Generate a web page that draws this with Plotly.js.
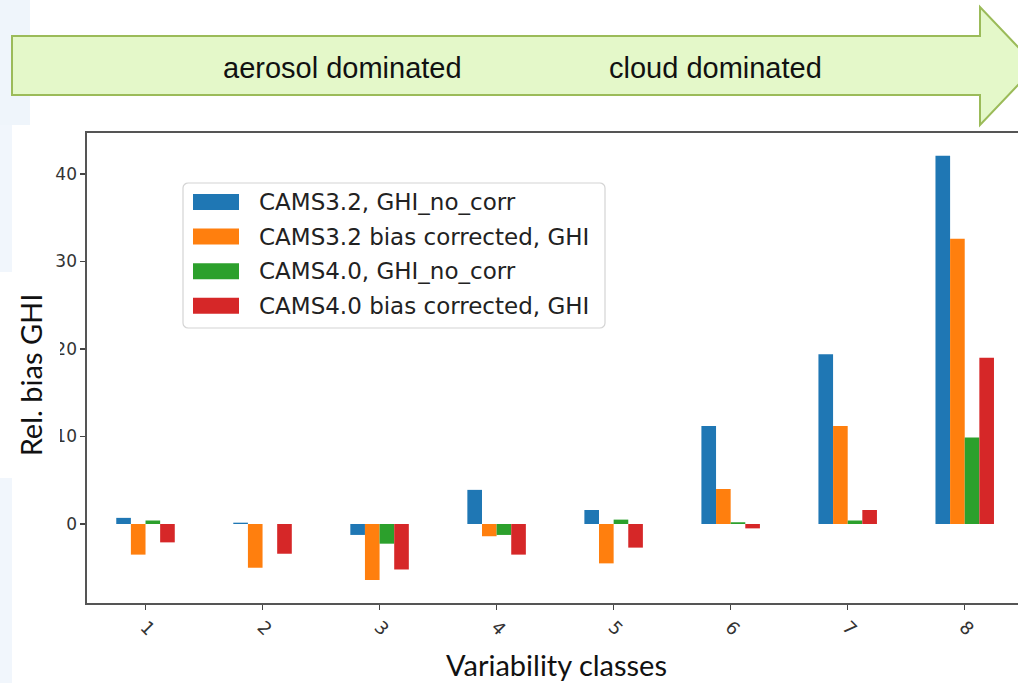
<!DOCTYPE html>
<html>
<head>
<meta charset="utf-8">
<script src="https://cdn.plot.ly/plotly-3.0.1.min.js"></script>
<style>
  html, body { margin: 0; padding: 0; background: #ffffff; }
  #chart { width: 1018px; height: 683px; }
</style>
</head>
<body>
<div id="chart"></div>
<script>
// Variability classes on the x axis
const classes = [1, 2, 3, 4, 5, 6, 7, 8];
const classLabels = ["1", "2", "3", "4", "5", "6", "7", "8"];

// Relative GHI bias (%) per variability class
const cams32NoCorr   = [0.7, 0.15, -1.25, 3.9, 1.6, 11.2, 19.4, 42.1];
const cams32BiasCorr = [-3.5, -5.0, -6.4, -1.4, -4.5, 4.0, 11.2, 32.6];
const cams40NoCorr   = [0.4, 0.0, -2.25, -1.25, 0.5, 0.2, 0.4, 9.9];
const cams40BiasCorr = [-2.1, -3.4, -5.2, -3.5, -2.7, -0.5, 1.6, 19.0];

const seriesNames = [
  "CAMS3.2, GHI_no_corr",
  "CAMS3.2 bias corrected, GHI",
  "CAMS4.0, GHI_no_corr",
  "CAMS4.0 bias corrected, GHI"
];
const seriesValues = [cams32NoCorr, cams32BiasCorr, cams40NoCorr, cams40BiasCorr];
const seriesColors = ["#1f77b4", "#ff7f0e", "#2ca02c", "#d62728"];

const yTicks = [0, 10, 20, 30, 40];
const bandLabels = ["aerosol dominated", "cloud dominated"];

// Page geometry (pixels)
const W = 1018, H = 683;
const M = { l: 87, r: 0, t: 133, b: 80 };
const PW = W - M.l - M.r, PH = H - M.t - M.b;
const px = x => (x - M.l) / PW;
const py = y => (H - M.b - y) / PH;
const classStep = 117.03;   // pixels between class ticks

const traces = seriesNames.map((name, i) => ({
  type: "bar",
  name: name,
  x: classes,
  y: seriesValues[i],
  marker: { color: seriesColors[i], line: { width: 0 } },
  showlegend: false,
  hoverinfo: "x+y+name"
}));

function poly(pts) {
  return "M" + pts.map(p => px(p[0]).toFixed(5) + "," + py(p[1]).toFixed(5)).join(" L") + " Z";
}

function roundRect(x0, y0, x1, y1, r) {
  // rounded rectangle in pixel space, converted to paper coordinates
  const pts = [];
  const seg = 4;
  const corners = [
    [x1 - r, y0 + r, -Math.PI / 2, 0],
    [x1 - r, y1 - r, 0, Math.PI / 2],
    [x0 + r, y1 - r, Math.PI / 2, Math.PI],
    [x0 + r, y0 + r, Math.PI, 1.5 * Math.PI]
  ];
  corners.forEach(c => {
    for (let k = 0; k <= seg; k++) {
      const a = c[2] + (c[3] - c[2]) * k / seg;
      pts.push([c[0] + r * Math.cos(a), c[1] + r * Math.sin(a)]);
    }
  });
  return poly(pts);
}

const shapes = [];
const annotations = [];

// light slide background strips on the left edge
shapes.push({ type: "rect", xref: "paper", yref: "paper", layer: "below",
  x0: px(0), x1: px(30), y0: py(125), y1: py(0),
  fillcolor: "#eff5fb", line: { width: 0 } });
shapes.push({ type: "rect", xref: "paper", yref: "paper", layer: "below",
  x0: px(0), x1: px(12), y0: py(683), y1: py(125),
  fillcolor: "#f1f6fc", line: { width: 0 } });

// green arrow across the top
shapes.push({ type: "path", xref: "paper", yref: "paper", layer: "above",
  path: poly([[12, 36], [980, 36], [980, 7], [1036, 66], [980, 125], [980, 95], [12, 95]]),
  fillcolor: "#e4f8c9", line: { color: "#9bbb59", width: 2 } });

annotations.push({ xref: "paper", yref: "paper", x: px(342), y: py(68),
  text: bandLabels[0], showarrow: false, xanchor: "center", yanchor: "middle",
  font: { family: "Liberation Sans, Arial, sans-serif", size: 29, color: "#111111" } });
annotations.push({ xref: "paper", yref: "paper", x: px(715), y: py(68),
  text: bandLabels[1], showarrow: false, xanchor: "center", yanchor: "middle",
  font: { family: "Liberation Sans, Arial, sans-serif", size: 29, color: "#111111" } });

// y-axis title on its own white text box
annotations.push({ xref: "paper", yref: "paper", x: px(30), y: py(375),
  text: "Rel. bias GHI", textangle: -90, showarrow: false,
  xanchor: "center", yanchor: "middle",
  width: 206, height: 60, bgcolor: "#ffffff", borderpad: 0, borderwidth: 0,
  font: { family: "Lato, Open Sans, sans-serif", size: 29, color: "#111111" } });

annotations.push({ xref: "paper", yref: "paper", x: px(556), y: py(664),
  text: "Variability classes", showarrow: false,
  xanchor: "center", yanchor: "middle",
  font: { family: "Lato, Open Sans, sans-serif", size: 29, color: "#111111" } });

// legend box
shapes.push({ type: "path", xref: "paper", yref: "paper", layer: "above",
  path: roundRect(183, 183, 605, 328, 5),
  fillcolor: "rgba(255,255,255,0.85)", line: { color: "#d4d4d4", width: 1.2 } });

const rowY0 = 202, rowStep = 34.6;
seriesNames.forEach((name, i) => {
  const cy = rowY0 + i * rowStep;
  shapes.push({ type: "rect", xref: "paper", yref: "paper", layer: "above",
    x0: px(193), x1: px(239), y0: py(cy + 8), y1: py(cy - 8),
    fillcolor: seriesColors[i], line: { width: 0 } });
  annotations.push({ xref: "paper", yref: "paper", x: px(257), y: py(cy),
    text: name, showarrow: false, xanchor: "left", yanchor: "middle",
    font: { family: "DejaVu Sans, sans-serif", size: 23, color: "#222222" } });
});

const layout = {
  width: W,
  height: H,
  margin: M,
  paper_bgcolor: "#ffffff",
  plot_bgcolor: "#ffffff",
  barmode: "group",
  bargap: 0.5,
  bargroupgap: 0,
  showlegend: false,
  xaxis: {
    type: "linear",
    range: [0.5, 0.5 + PW / classStep],
    tickmode: "array",
    tickvals: classes,
    ticktext: classLabels,
    tickangle: 45,
    ticks: "outside",
    ticklen: 5,
    tickwidth: 1.4,
    tickcolor: "#444444",
    showline: true,
    mirror: true,
    linecolor: "#555555",
    linewidth: 1.6,
    showgrid: false,
    zeroline: false,
    tickfont: { family: "DejaVu Sans, sans-serif", size: 18, color: "#333333" }
  },
  yaxis: {
    range: [-9.03, 44.69],
    tickmode: "array",
    tickvals: yTicks,
    ticktext: yTicks.map(String),
    ticks: "outside",
    ticklen: 5,
    tickwidth: 1.4,
    tickcolor: "#444444",
    showline: true,
    mirror: false,
    linecolor: "#555555",
    linewidth: 1.6,
    showgrid: false,
    zeroline: false,
    tickfont: { family: "DejaVu Sans, sans-serif", size: 17, color: "#333333" }
  },
  shapes: shapes,
  annotations: annotations
};

Plotly.newPlot("chart", traces, layout, { displayModeBar: false, staticPlot: true });
</script>
</body>
</html>
